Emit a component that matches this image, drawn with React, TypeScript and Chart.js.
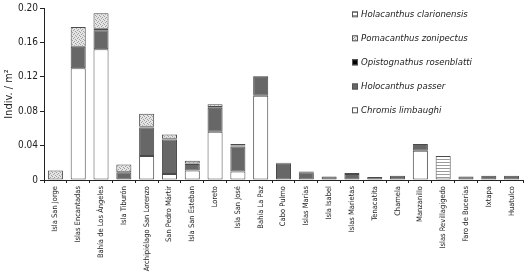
import { useEffect, useRef } from 'react';
import { Chart, registerables } from 'chart.js';

Chart.register(...registerables);

const categories = [
  'Isla San Jorge', 'Islas Encantadas', 'Bahía de Los Ángeles', 'Isla Tiburón',
  'Archipiélago San Lorenzo', 'San Pedro Mártir', 'Isla San Esteban', 'Loreto',
  'Isla San José', 'Bahía La Paz', 'Cabo Pulmo', 'Islas Marías', 'Isla Isabel',
  'Islas Marietas', 'Tenacatita', 'Chamela', 'Manzanillo', 'Islas Revillagigedo',
  'Faro de Bucerías', 'Ixtapa', 'Huatulco',
];

const chromisLimbaughi = [0, 0.130, 0.152, 0, 0.028, 0.007, 0.011, 0.056, 0.010, 0.098, 0, 0, 0, 0, 0, 0, 0.034, 0, 0, 0, 0];
const holocanthusPasser = [0, 0.025, 0.022, 0.009, 0.033, 0.040, 0.0075, 0.028, 0.029, 0.022, 0.019, 0.009, 0.004, 0.007, 0.0035, 0.005, 0.008, 0, 0.004, 0.005, 0.005];
const opistognathusRosenblatti = [0, 0, 0.002, 0, 0.001, 0.001, 0.0008, 0.001, 0.001, 0.001, 0.001, 0.001, 0, 0.001, 0, 0, 0, 0, 0, 0, 0];
const pomacanthusZonipectus = [0.011, 0.023, 0.018, 0.009, 0.015, 0.005, 0.003, 0.003, 0.002, 0, 0, 0, 0, 0, 0, 0, 0, 0, 0, 0, 0];
const holacanthusClarionensis = [0, 0, 0, 0, 0, 0, 0, 0, 0, 0, 0, 0, 0, 0, 0, 0, 0, 0.028, 0, 0, 0];

const seriesNames = [
  'Chromis limbaughi',
  'Holocanthus passer',
  'Opistognathus rosenblatti',
  'Pomacanthus zonipectus',
  'Holacanthus clarionensis',
];

const yMin = 0;
const yMax = 0.2;
const yStep = 0.04;
const yTitle = 'Indiv. / m²';

const FONT = '"Liberation Sans Narrow", "DejaVu Sans Condensed", Roboto, sans-serif';
const TEXT = '#222';

function makeStipple(): CanvasPattern | string {
  const c = document.createElement('canvas');
  c.width = 4; c.height = 4;
  const g = c.getContext('2d');
  if (!g) return '#ccc';
  g.fillStyle = '#e4e4e4';
  g.fillRect(0, 0, 4, 4);
  g.fillStyle = '#a0a0a0';
  g.fillRect(0, 0, 1, 1);
  g.fillRect(2, 1, 1, 1);
  g.fillRect(1, 2, 1, 1);
  g.fillRect(3, 3, 1, 1);
  const p = g.createPattern(c, 'repeat');
  return p || '#ccc';
}

function makeHLines(): CanvasPattern | string {
  const c = document.createElement('canvas');
  c.width = 3; c.height = 3;
  const g = c.getContext('2d');
  if (!g) return '#ddd';
  g.fillStyle = '#ffffff';
  g.fillRect(0, 0, 3, 3);
  g.fillStyle = '#9a9a9a';
  g.fillRect(0, 0, 3, 1);
  const p = g.createPattern(c, 'repeat');
  return p || '#ddd';
}

const nz = (arr: number[]) => arr.map((v) => (v === 0 ? null : v));

export default function App() {
  const ref = useRef<HTMLCanvasElement | null>(null);

  useEffect(() => {
    if (!ref.current) return;
    const stipple = makeStipple();
    const hlines = makeHLines();
    const fills = ['#ffffff', '#676767', '#000000', stipple, hlines];
    const values = [chromisLimbaughi, holocanthusPasser, opistognathusRosenblatti, pomacanthusZonipectus, holacanthusClarionensis];

    const legendPlugin = {
      id: 'customLegend',
      afterDraw(chart: any) {
        const ctx = chart.ctx as CanvasRenderingContext2D;
        ctx.save();
        const x0 = 352;
        const ys = [14.3, 38.3, 62.3, 86.5, 110.3];
        ctx.font = `italic 9.5px ${FONT}`;
        ctx.textBaseline = 'middle';
        ctx.textAlign = 'left';
        for (let i = 0; i < 5; i++) {
          const idx = 4 - i;
          const y = ys[i];
          ctx.fillStyle = fills[idx] as any;
          ctx.fillRect(x0, y - 3, 6, 6);
          ctx.strokeStyle = '#555';
          ctx.lineWidth = 1;
          ctx.strokeRect(x0 + 0.5, y - 2.5, 5, 5);
          ctx.fillStyle = TEXT;
          ctx.fillText(seriesNames[idx], x0 + 9, y);
        }
        ctx.restore();
      },
    };

    const chart = new Chart(ref.current, {
      type: 'bar',
      data: {
        labels: categories,
        datasets: values.map((v, i) => ({
          label: seriesNames[i],
          data: nz(v),
          backgroundColor: fills[i] as any,
          borderColor: '#4a4a4a',
          borderWidth: 1,
          borderSkipped: false,
          barPercentage: 0.66,
          categoryPercentage: 1,
        })),
      },
      options: {
        responsive: false,
        animation: false,
        layout: { padding: { top: 7, right: 5, left: 0, bottom: 0 } },
        plugins: {
          legend: { display: false },
          tooltip: { enabled: false },
        },
        scales: {
          x: {
            stacked: true,
            grid: {
              display: true,
              drawOnChartArea: false,
              offset: true,
              tickLength: 3,
              color: '#222',
            },
            border: { display: true, color: '#222', width: 1 },
            ticks: {
              autoSkip: false,
              maxRotation: 90,
              minRotation: 90,
              padding: 3,
              color: TEXT,
              font: { family: FONT, size: 7.5 },
            },
            afterFit: (scale: any) => { scale.height = 98; },
          },
          y: {
            stacked: true,
            min: yMin,
            max: yMax,
            grid: {
              display: true,
              drawOnChartArea: false,
              tickLength: 4,
              color: '#222',
            },
            border: { display: true, color: '#222', width: 1 },
            ticks: {
              stepSize: yStep,
              padding: 2,
              color: TEXT,
              font: { family: FONT, size: 10 },
              callback: (v: any) => (Number(v) === 0 ? '0' : Number(v).toFixed(2)),
            },
            title: {
              display: true,
              text: yTitle,
              color: TEXT,
              font: { family: FONT, size: 11 },
              padding: { top: 3, bottom: 2 },
            },
            afterFit: (scale: any) => { scale.width = 44; },
          },
        },
      },
      plugins: [legendPlugin],
    });
    return () => chart.destroy();
  }, []);

  return (
    <canvas
      ref={ref}
      width={528}
      height={278}
      style={{ position: 'absolute', left: 0, top: 0, width: 528, height: 278 }}
    />
  );
}
